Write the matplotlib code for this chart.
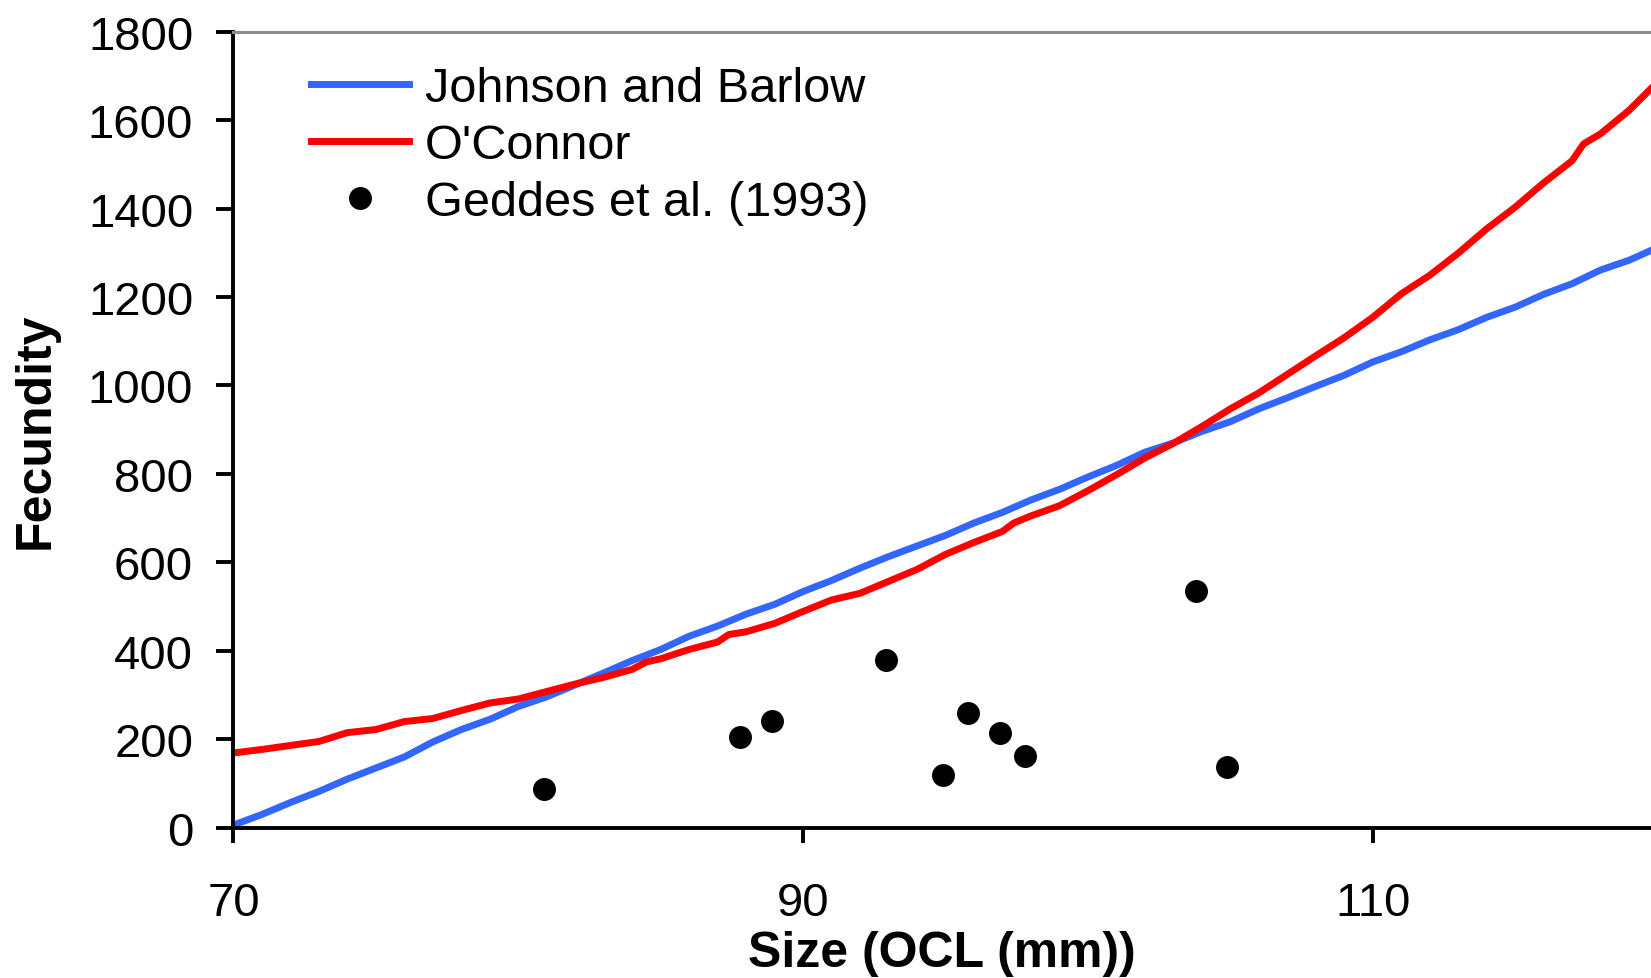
import matplotlib
matplotlib.use("Agg")
import matplotlib.pyplot as plt

plt.rcParams['font.family'] = ['Liberation Sans', 'DejaVu Sans']

# Johnson and Barlow curve, 1 mm steps
jb_x = list(range(70, 121))
jb_y = [6, 30, 57, 82, 110, 135, 160, 194, 222, 245,
        274, 296, 323, 350, 378, 403, 433, 456, 483, 505,
        534, 559, 587, 613, 637, 661, 689, 713, 741, 765,
        793, 819, 849, 870, 896, 918, 947, 972, 998, 1023,
        1053, 1076, 1103, 1126, 1154, 1177, 1206, 1230, 1261, 1283, 1312]

# O'Connor curve
oc_x = [70, 71, 72, 73, 74, 75, 76, 77, 78, 79, 80, 81, 82, 83, 84, 84.5, 85, 86,
        87, 87.4, 88, 89, 90, 91, 92, 93, 94, 95, 96, 97, 97.4, 98, 99,
        100, 101, 102, 103, 104, 105, 106, 107, 108, 109, 110, 111, 112, 113,
        114, 115, 116, 117, 117.4, 118, 119, 120]
oc_y = [169, 177, 186, 195, 215, 222, 240, 247, 265, 282, 291, 308, 325, 340, 358, 375, 382, 403,
        420, 437, 443, 462, 489, 515, 530, 557, 584, 618, 645, 670, 689, 705, 728,
        762, 798, 836, 869, 907, 947, 983, 1025, 1067, 1108, 1154, 1207, 1249, 1299,
        1354, 1403, 1458, 1508, 1546, 1569, 1622, 1686]

# Geddes et al. (1993) observations
gd_x = [80.9, 87.8, 88.9, 92.9, 94.9, 95.8, 96.9, 97.8, 103.8, 104.9]
gd_y = [87, 206, 241, 380, 120, 259, 215, 163, 536, 137]

fig = plt.figure(figsize=(16.51, 9.79), dpi=100)
ax = fig.add_axes([0.1414, 0.1535, 0.8586, 0.8132])

ax.plot(jb_x, jb_y, color='#3366FF', linewidth=5, label='Johnson and Barlow')
ax.plot(oc_x, oc_y, color='#FF0000', linewidth=5, label="O'Connor")
ax.plot(gd_x, gd_y, linestyle='', marker='o', markersize=15.5, color='black',
        label='Geddes et al. (1993)')

ax.set_xlim(70, 119.77)
ax.set_ylim(0, 1800)
ax.set_xticks([70, 90, 110])
ax.set_yticks(range(0, 1801, 200))

ax.spines['right'].set_visible(False)
ax.spines['top'].set_color('#8c8c8c')
ax.spines['top'].set_linewidth(2.2)
ax.spines['left'].set_linewidth(2.8)
ax.spines['bottom'].set_linewidth(2.8)

ax.tick_params(axis='y', direction='out', length=12, width=2.8, pad=17, labelsize=34)
ax.tick_params(axis='x', direction='out', length=11, width=2.8, pad=27, labelsize=34)

ax.set_xlabel('Size (OCL (mm))', fontsize=36, fontweight='bold', labelpad=4)
ax.set_ylabel('Fecundity', fontsize=36, fontweight='bold', labelpad=21)

ax.legend(loc='upper left', bbox_to_anchor=(0.055, 0.9565), frameon=False,
          fontsize=35, handlelength=2.0, handletextpad=0.34, labelspacing=0.245,
          borderpad=0, borderaxespad=0)

fig.savefig('out.png', dpi=100)
